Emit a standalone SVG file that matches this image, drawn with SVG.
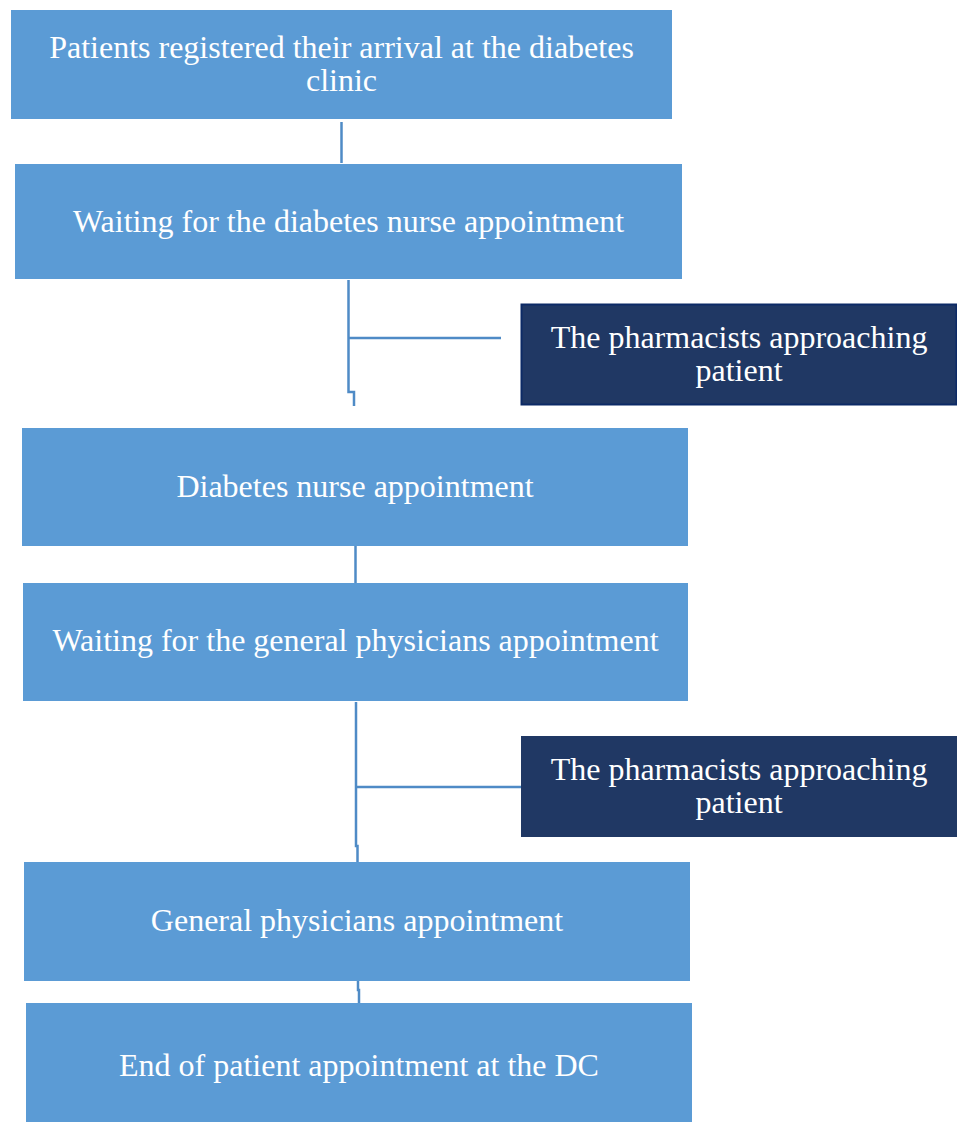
<svg xmlns="http://www.w3.org/2000/svg" width="957" height="1122" viewBox="0 0 957 1122">
<style>
.box{fill:#5B9BD5;}
.dark{fill:#203864;}
.t{font-family:"Liberation Serif","Times New Roman",serif;font-size:32px;fill:#FFFFFF;text-anchor:middle;}
.c{fill:none;stroke:#4F8BC6;stroke-width:2.5;}
</style>
<rect width="957" height="1122" fill="#FFFFFF"/>
<g id="connectors">
<path class="c" d="M341.5 122 V163"/>
<path class="c" d="M348.5 280 V392 H354 V406"/>
<path class="c" d="M348.5 338 H501"/>
<path class="c" d="M355.5 546 V583"/>
<path class="c" d="M356 702 V846 H357.5 V862"/>
<path class="c" d="M356 787 H521"/>
<path class="c" d="M358 981 V990 H359 V1003"/>
</g>
<g id="n1">
<rect class="box" x="11" y="10" width="661" height="109"/>
<text class="t" x="341.5" y="58">Patients registered their arrival at the diabetes</text>
<text class="t" x="341.5" y="91">clinic</text>
</g>
<g id="n2">
<rect class="box" x="15" y="164" width="667" height="115"/>
<text class="t" x="348.5" y="232">Waiting for the diabetes nurse appointment</text>
</g>
<g id="n3">
<rect class="dark" x="521.5" y="304.5" width="435" height="100" stroke="#0C2A66" stroke-width="2"/>
<text class="t" x="739" y="348">The pharmacists approaching</text>
<text class="t" x="739" y="381">patient</text>
</g>
<g id="n4">
<rect class="box" x="22" y="428" width="666" height="118"/>
<text class="t" x="355" y="497">Diabetes nurse appointment</text>
</g>
<g id="n5">
<rect class="box" x="23" y="583" width="665" height="118"/>
<text class="t" x="355.5" y="651">Waiting for the general physicians appointment</text>
</g>
<g id="n6">
<rect class="dark" x="521" y="736" width="436" height="101"/>
<text class="t" x="739" y="780">The pharmacists approaching</text>
<text class="t" x="739" y="813">patient</text>
</g>
<g id="n7">
<rect class="box" x="24" y="862" width="666" height="119"/>
<text class="t" x="357" y="931">General physicians appointment</text>
</g>
<g id="n8">
<rect class="box" x="26" y="1003" width="666" height="119"/>
<text class="t" x="359" y="1076">End of patient appointment at the DC</text>
</g>
</svg>
